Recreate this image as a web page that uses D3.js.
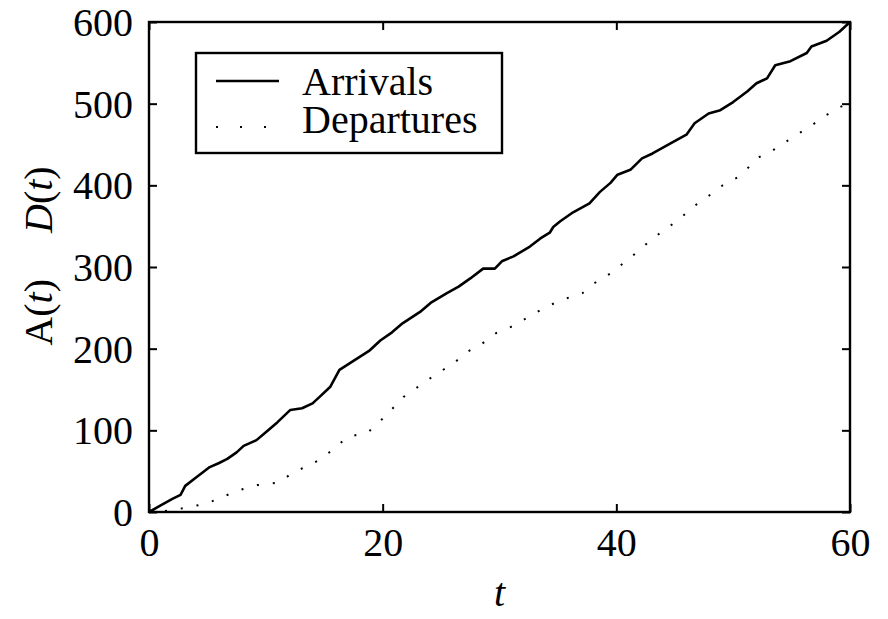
<!DOCTYPE html>
<html><head><meta charset="utf-8">
<script src="https://cdn.jsdelivr.net/npm/d3@7"></script>
</head>
<body style="margin:0">
<svg id="chart" width="888" height="619"></svg>
<script>
// Data
const arrT = [0,1,2,2.7,3.1,4,5.2,6,6.7,7.5,8.1,9.2,10.1,11,12.1,13.1,14,14.6,15.5,16.3,17.6,18.9,19.8,20.8,21.7,23.2,24.1,25.5,26.5,27.5,28.6,29.6,30.2,31.2,32.6,33.5,34.3,34.6,35.2,36.3,37.7,38.6,39.5,40.1,41.2,42.2,43.1,44.6,46.0,46.7,47.9,48.9,50.0,51.2,52.0,52.9,53.6,54.9,56.3,56.7,58.0,59.1,60];
const arrV = [0,8,16,21,32,42,55,60,65,73,81,88,99,110,125,127,133,141,153,174,186,198,210,220,231,245,256,268,276,286,298,298,307,313,325,335,342,349,356,367,378,392,403,413,419,433,439,451,462,476,488,492,502,515,525,531,547,552,562,570,577,588,600];
const depT = [0,2,3.7,4.9,6.2,7.8,9.3,11.1,12.3,13.8,14.6,15.8,17,18.7,19.7,20.8,21.8,23.1,24.7,26,27.1,28.5,29.7,31.2,32.6,34.1,35.6,37.1,38.3,39.6,40.8,42.1,43,44.3,45.5,46.6,47.9,49.1,50.4,51,52,53.4,54.7,56,57.3,58.5,60];
const depV = [0,2,7,10,18,27,33,36,48,58,64,77,92,97,110,126,141,154,170,181,195,206,219,228,240,252,261,268,282,293,307,322,334,347,360,374,387,400,410,417,433,443,455,467,479,491,502];
const xTicks = [0,20,40,60];
const yTicks = [0,100,200,300,400,500,600];
const seriesNames = ["Arrivals","Departures"];

const FONT = "Liberation Serif";
const fs = 40;
const svg = d3.select("#chart");
const L = 149, R = 850, T = 22, B = 512;
const x = d3.scaleLinear().domain([0,60]).range([L,R]);
const y = d3.scaleLinear().domain([0,600]).range([B,T]);

const arrivals = arrT.map((t,i)=>[t,arrV[i]]);
const departures = depT.map((t,i)=>[t,depV[i]]);
const line = d3.line().x(d=>x(d[0])).y(d=>y(d[1]));

function serif(sel){
  return sel.attr("font-family",FONT).attr("font-size",fs)
    .style("font-family",FONT,"important").style("font-size",fs+"px","important");
}

// Data lines
svg.append("path").datum(departures).attr("d",line)
  .attr("fill","none").attr("stroke","#000").attr("stroke-width",2)
  .attr("stroke-dasharray","2 14");
svg.append("path").datum(arrivals).attr("d",line)
  .attr("fill","none").attr("stroke","#000").attr("stroke-width",2.6)
  .attr("stroke-linejoin","round");

// Axes (inward ticks, mirrored)
const axB = svg.append("g").attr("transform",`translate(0,${B})`)
  .call(d3.axisBottom(x).tickValues(xTicks).tickSize(-8).tickPadding(16).tickFormat(d3.format("d")));
const axT = svg.append("g").attr("transform",`translate(0,${T})`)
  .call(d3.axisTop(x).tickValues(xTicks).tickSize(-8).tickFormat(""));
const axL = svg.append("g").attr("transform",`translate(${L},0)`)
  .call(d3.axisLeft(y).tickValues(yTicks).tickSize(-8).tickPadding(16).tickFormat(d3.format("d")));
const axR = svg.append("g").attr("transform",`translate(${R},0)`)
  .call(d3.axisRight(y).tickValues(yTicks).tickSize(-8).tickFormat(""));
[axB,axT,axL,axR].forEach(g=>{
  serif(g);
  g.select(".domain").remove();
  g.selectAll(".tick line").attr("stroke","#000").attr("stroke-width",2);
  serif(g.selectAll("text")).attr("fill","#000");
});
axB.selectAll("text").attr("dy","0.71em");
axL.selectAll("text").attr("dy","0.34em").attr("x",-16);

// Frame
svg.append("rect").attr("x",L).attr("y",T).attr("width",R-L).attr("height",B-T)
  .attr("fill","none").attr("stroke","#000").attr("stroke-width",2.4);

// Axis labels
serif(svg.append("text")).attr("x",(L+R)/2).attr("y",606).attr("text-anchor","middle")
  .attr("font-style","italic").text("t");
const yl = serif(svg.append("text")).attr("transform","translate(52,256) rotate(-90)")
  .attr("text-anchor","middle");
yl.append("tspan").text("A(");
yl.append("tspan").attr("font-style","italic").text("t");
yl.append("tspan").text(")");
yl.append("tspan").attr("dx",46).attr("font-style","italic").text("D");
yl.append("tspan").text("(");
yl.append("tspan").attr("font-style","italic").text("t");
yl.append("tspan").text(")");

// Legend
const lg = svg.append("g");
lg.append("rect").attr("x",196).attr("y",53).attr("width",306).attr("height",100)
  .attr("fill","#fff").attr("stroke","#000").attr("stroke-width",2.4);
lg.append("line").attr("x1",216).attr("x2",279).attr("y1",81).attr("y2",81)
  .attr("stroke","#000").attr("stroke-width",2.6);
lg.append("line").attr("x1",216).attr("x2",279).attr("y1",127).attr("y2",127)
  .attr("stroke","#000").attr("stroke-width",2).attr("stroke-dasharray","2 22");
serif(lg.selectAll("text.lab").data(seriesNames).join("text").attr("class","lab"))
  .attr("x",302).attr("y",(d,i)=>i===0?95:133).text(d=>d);
</script>
</body></html>
